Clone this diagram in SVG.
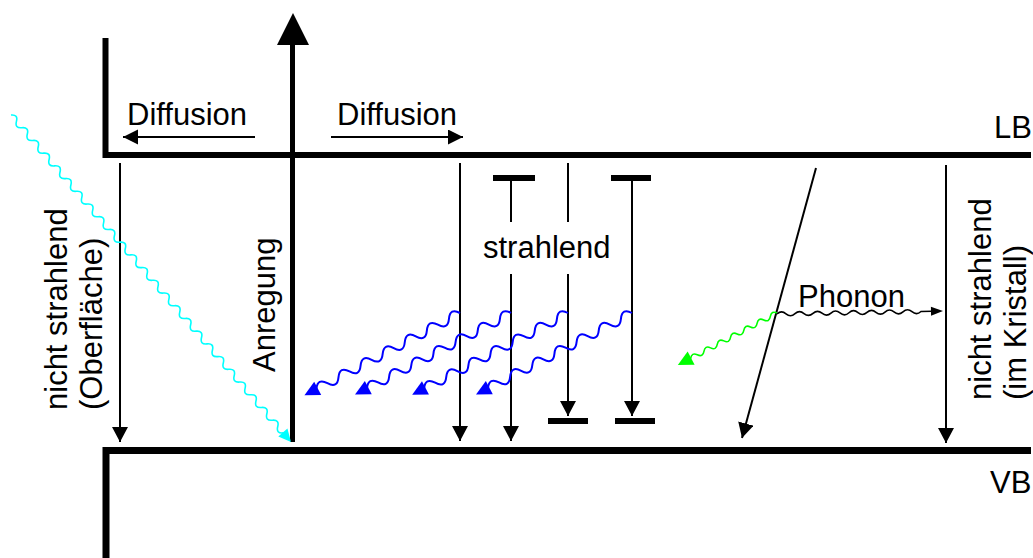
<svg xmlns="http://www.w3.org/2000/svg" width="1033" height="558" viewBox="0 0 1033 558">
<style>
text{font-family:"Liberation Sans",Arial,sans-serif;font-size:31px;fill:#000}
.band{fill:none;stroke:#000;stroke-width:6;stroke-linejoin:miter}
.thin{fill:none;stroke:#000;stroke-width:2}
.bar{stroke:#000;stroke-width:6}
.wb{fill:none;stroke:#0000ff;stroke-width:2}
.wc{fill:none;stroke:#00ffff;stroke-width:1.6}
.wg{fill:none;stroke:#00ff00;stroke-width:1.6}
.wk{fill:none;stroke:#000;stroke-width:1.6}
</style>
<defs>
<marker id="ah" markerUnits="userSpaceOnUse" markerWidth="16" markerHeight="16" refX="15" refY="8" orient="auto">
<path d="M0,0 L15,8 L0,16 z" fill="#000"/>
</marker>
<marker id="ahs" markerUnits="userSpaceOnUse" markerWidth="16" markerHeight="16" refX="15" refY="7.5" orient="auto">
<path d="M0,0 L15,7.5 L0,15 z" fill="#000"/>
</marker>
<path id="bw" d="M0,0 q6.25,9.5 12.5,0 t12.5,0 t12.5,0 t12.5,0 t12.5,0 t12.5,0 t12.5,0 t12.5,0 t12.5,0 t12.5,0 t12.5,0 t12.5,0 t12.5,0 L163,0"/>
</defs>

<g id="bands">
<path class="band" d="M105.5,38 V155 H1031"/>
<path class="band" d="M106,558 V450.5 H1031" style="stroke-width:7"/>
<text x="994" y="138">LB</text>
<text x="990" y="493">VB</text>
</g>

<g id="excitation">
<line x1="292.5" y1="40" x2="292.5" y2="442" stroke="#000" stroke-width="5"/>
<polygon points="293,13 277,45 309,45" fill="#000"/>
<text transform="translate(275,372) rotate(-90)">Anregung</text>
</g>

<g id="diffusion">
<text x="127" y="125">Diffusion</text>
<text x="337" y="125">Diffusion</text>
</g>

<g id="labels">
<text transform="translate(67,410) rotate(-90)">nicht strahlend</text>
<text transform="translate(102,410) rotate(-90)">(Oberfläche)</text>
<text x="483" y="258">strahlend</text>
<text x="798" y="307">Phonon</text>
<text transform="translate(991,400) rotate(-90)">nicht strahlend</text>
<text transform="translate(1026,400) rotate(-90)">(im Kristall)</text>
</g>

<g id="connectors">
<line class="thin" x1="255" y1="137" x2="123" y2="137" marker-end="url(#ahs)"/>
<line class="thin" x1="331" y1="137" x2="463" y2="137" marker-end="url(#ahs)"/>
<line class="thin" x1="120" y1="163" x2="120" y2="442" marker-end="url(#ah)"/>
<line class="thin" x1="460" y1="163" x2="460" y2="441" marker-end="url(#ah)"/>
<line class="thin" x1="511" y1="178" x2="511" y2="222"/>
<line class="thin" x1="511" y1="274" x2="511" y2="441" marker-end="url(#ah)"/>
<line class="thin" x1="568" y1="163" x2="568" y2="222"/>
<line class="thin" x1="568" y1="274" x2="568" y2="416" marker-end="url(#ah)"/>
<line class="thin" x1="632" y1="178" x2="632" y2="416" marker-end="url(#ah)"/>
<line class="thin" x1="946" y1="165" x2="946" y2="443" marker-end="url(#ah)"/>
<line class="thin" x1="816" y1="168" x2="742" y2="438" marker-end="url(#ah)"/>
<line class="bar" x1="493" y1="178" x2="535" y2="178"/>
<line class="bar" x1="611" y1="178" x2="651" y2="178"/>
<line class="bar" x1="548" y1="421" x2="588" y2="421"/>
<line class="bar" x1="615" y1="421" x2="655" y2="421"/>

<g transform="translate(460,313) rotate(152.1)"><use href="#bw" class="wb"/><polygon points="176,0 161,-7.5 161,7.5" fill="#0000ff"/></g>
<g transform="translate(511,313) rotate(152.4)"><use href="#bw" class="wb"/><polygon points="176,0 161,-7.5 161,7.5" fill="#0000ff"/></g>
<g transform="translate(568,313) rotate(152.3)"><use href="#bw" class="wb"/><polygon points="176,0 161,-7.5 161,7.5" fill="#0000ff"/></g>
<g transform="translate(632,313) rotate(152.4)"><use href="#bw" class="wb"/><polygon points="176,0 161,-7.5 161,7.5" fill="#0000ff"/></g>

<g transform="translate(11,115) rotate(49.43)">
<path class="wc" d="M0,0 q4.185,-6 8.37,0 t8.37,0 t8.37,0 t8.37,0 t8.37,0 t8.37,0 t8.37,0 t8.37,0 t8.37,0 t8.37,0 t8.37,0 t8.37,0 t8.37,0 t8.37,0 t8.37,0 t8.37,0 t8.37,0 t8.37,0 t8.37,0 t8.37,0 t8.37,0 t8.37,0 t8.37,0 t8.37,0 t8.37,0 t8.37,0 t8.37,0 t8.37,0 t8.37,0 t8.37,0 t8.37,0 t8.37,0 t8.37,0 t8.37,0 t8.37,0 t8.37,0 t8.37,0 t8.37,0 t8.37,0 t8.37,0 t8.37,0 t8.37,0 t8.37,0 t8.37,0 t8.37,0 t8.37,0 t8.37,0 t8.37,0 t8.37,0 t8.37,0 L419,0"/>
<polygon points="430.5,0 418,-6 418,6" fill="#00ffff"/>
</g>

<g transform="translate(777,313) rotate(152.3)">
<path class="wg" d="M0,0 q3.75,5 7.5,0 t7.5,0 t7.5,0 t7.5,0 t7.5,0 t7.5,0 t7.5,0 t7.5,0 t7.5,0 t7.5,0 t7.5,0 t7.5,0 t7.5,0 L99,0"/>
<polygon points="112,0 97,-7.5 97,7.5" fill="#00ff00"/>
</g>

<g transform="translate(777,314) rotate(-1)">
<path class="wk" d="M0,0 q4.5,-4 9,0 t9,0 t9,0 t9,0 t9,0 t9,0 t9,0 t9,0 t9,0 t9,0 t9,0 t9,0 t9,0 t9,0 t9,0 t9,0 L155,0"/>
<polygon points="166,0 154,-4.5 154,4.5" fill="#000"/>
</g>
</g>
</svg>
